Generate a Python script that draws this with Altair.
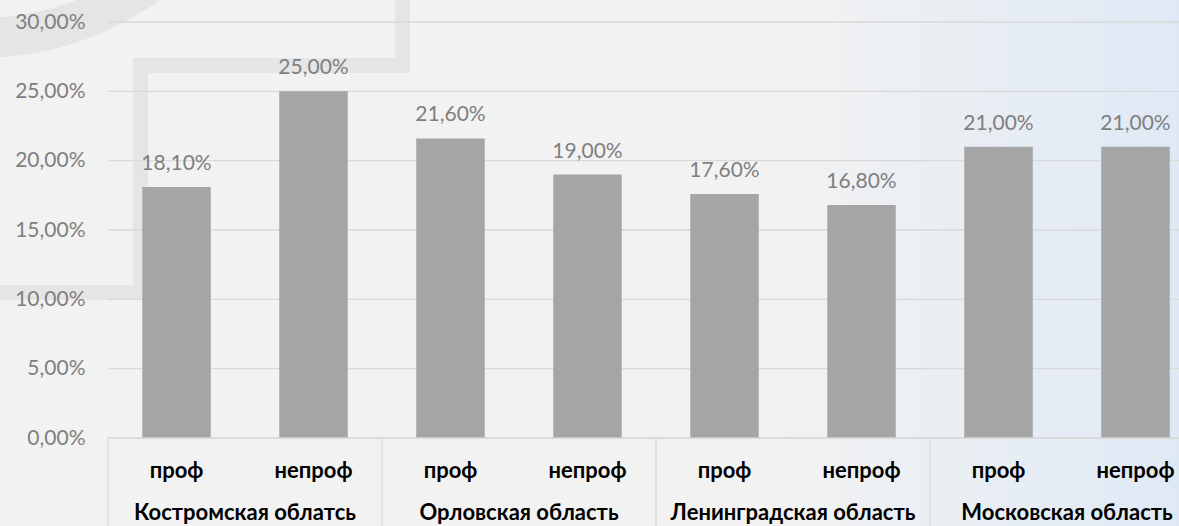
import altair as alt
import pandas as pd

regions = ["Костромская облатсь", "Орловская область", "Ленинградская область", "Московская область"]
types = ["проф", "непроф"]
values = [18.1, 25.0, 21.6, 19.0, 17.6, 16.8, 21.0, 21.0]
y_ticks = [0, 5, 10, 15, 20, 25, 30]

W, H = 1071, 416
FONT = "Lato"

rows = []
i = 0
for r in regions:
    for t in types:
        rows.append({"region": r, "type": t, "key": f"{r}|{t}", "value": values[i]})
        i += 1
df = pd.DataFrame(rows)
keys = list(df["key"])
reg_df = pd.DataFrame({"region": regions, "key": [f"{r}|{types[0]}" for r in regions]})
grid_df = pd.DataFrame({"v": y_ticks})
one = pd.DataFrame({"a": [0]})

xscale = alt.Scale(domain=keys, range=[0, 1096], paddingInner=0.5, paddingOuter=0.25)
yscale = alt.Scale(domain=[0, 30], nice=False)

fmt = "replace(format(datum.value, '.2f'), '.', ',') + '%'"

bg = alt.Chart(one).mark_rect(
    color=alt.LinearGradient(
        gradient="linear", x1=0, x2=1, y1=0, y2=0,
        stops=[alt.GradientStop(offset=0, color="#f2f2f2"),
               alt.GradientStop(offset=0.66, color="#f2f2f2"),
               alt.GradientStop(offset=1, color="#dfe9f5")])
).encode(x=alt.value(-108), x2=alt.value(W), y=alt.value(-22), y2=alt.value(H + 88))

deco_color = "#e5e5e5"
arc = alt.Chart(one).mark_arc(radius=268, radius2=308, theta=1.9, theta2=3.7, color=deco_color).encode(
    x=alt.value(-128), y=alt.value(-272))
r1 = alt.Chart(one).mark_rect(color=deco_color).encode(x=alt.value(-108), x2=alt.value(40), y=alt.value(263), y2=alt.value(278))
r2 = alt.Chart(one).mark_rect(color=deco_color).encode(x=alt.value(25), x2=alt.value(40), y=alt.value(36), y2=alt.value(278))
r3 = alt.Chart(one).mark_rect(color=deco_color).encode(x=alt.value(25), x2=alt.value(302), y=alt.value(36), y2=alt.value(51))
r4 = alt.Chart(one).mark_rect(color=deco_color).encode(x=alt.value(287), x2=alt.value(302), y=alt.value(-22), y2=alt.value(51))

grid = alt.Chart(grid_df).mark_rule(color="#d9d9d9", strokeWidth=1.3).encode(
    y=alt.Y("v:Q", scale=yscale, axis=alt.Axis(
        values=y_ticks, grid=False, domain=False, ticks=False, labelPadding=23,
        labelFont=FONT, labelFontSize=21, labelColor="#7f7f7f", zindex=1,
        labelExpr=fmt, title=None)),
    x=alt.value(0), x2=alt.value(W))

bars = alt.Chart(df).mark_bar(color="#a5a5a5").encode(
    x=alt.X("key:N", scale=xscale, sort=keys, axis=None),
    y=alt.Y("value:Q", scale=yscale))

labels = alt.Chart(df).transform_calculate(lab=fmt).mark_text(
    font=FONT, fontSize=21, color="#7f7f7f", baseline="alphabetic", dy=-17).encode(
    x=alt.X("key:N", scale=xscale, sort=keys, axis=None),
    y=alt.Y("value:Q", scale=yscale),
    text="lab:N")

sub = alt.Chart(df).mark_text(font=FONT, fontSize=22, fontWeight="bold", color="#000000",
                              baseline="alphabetic").encode(
    x=alt.X("key:N", scale=xscale, sort=keys, axis=None),
    y=alt.value(H + 40),
    text="type:N")

reg_text = alt.Chart(reg_df).mark_text(font=FONT, fontSize=22, fontWeight="bold", color="#000000",
                                       baseline="alphabetic", dx=102.75, align="center").encode(
    x=alt.X("key:N", scale=xscale, sort=keys, axis=None, bandPosition=0),
    y=alt.value(H + 82),
    text="region:N")

seps = alt.Chart(reg_df).mark_rule(color="#d9d9d9", strokeWidth=1.3, xOffset=-34.25).encode(
    x=alt.X("key:N", scale=xscale, sort=keys, axis=None, bandPosition=0),
    y=alt.value(H), y2=alt.value(H + 88))

domain = alt.Chart(one).mark_rule(color="#d9d9d9", strokeWidth=1.3).encode(
    x=alt.value(0), x2=alt.value(W), y=alt.value(H))

chart = alt.layer(bg, arc, r1, r2, r3, r4, grid, bars, labels, sub, reg_text, seps, domain).properties(
    width=W, height=H,
    autosize=alt.AutoSizeParams(type="none"),
    padding={"left": 108, "top": 22, "right": 0, "bottom": 88},
    background="#f2f2f2",
).configure_view(stroke=None)

chart.save("out.html", embed_options={"renderer": "svg", "actions": False})
